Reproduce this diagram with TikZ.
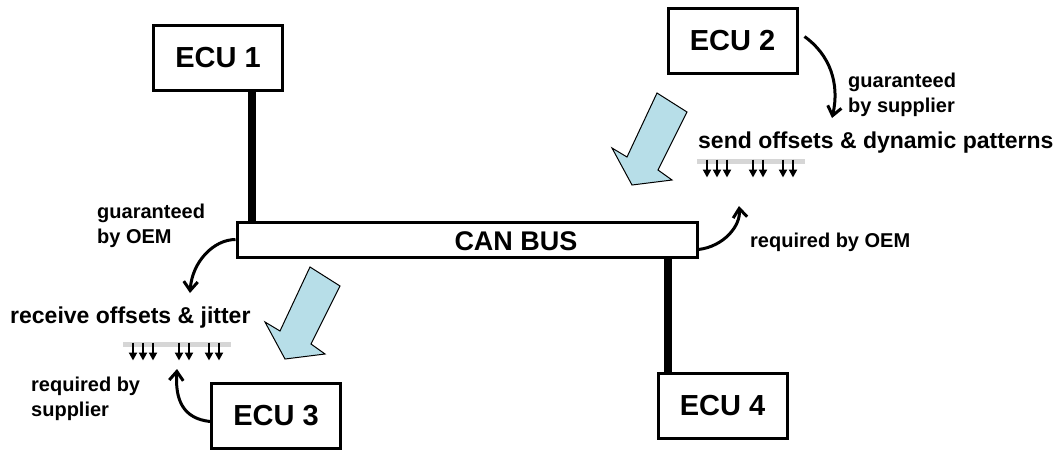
\documentclass[tikz,border=0pt]{standalone}
\usepackage{fontspec}
\setmainfont{Liberation Sans}
\usetikzlibrary{arrows.meta}
\definecolor{arrowblue}{RGB}{183,222,232}
\definecolor{tickgrey}{RGB}{214,214,214}
\tikzset{
  ecubox/.style={draw, fill=white, line width=3pt, minimum width=129, minimum height=65,
    font=\fontsize{29}{34}\selectfont\bfseries},
  busbox/.style={draw, fill=white, line width=3pt, minimum width=460, minimum height=35},
  stub/.style={line width=8pt},
  bigtext/.style={anchor=base west, inner sep=0pt, font=\fontsize{23}{28}\selectfont\bfseries},
  smalltext/.style={anchor=base west, inner sep=0pt, align=left, font=\fontsize{20}{25}\selectfont\bfseries},
  curvearr/.style={line width=3pt, -{Straight Barb[length=9pt,width=14pt,line width=3pt]}},
  bigarr/.style={draw=black, fill=arrowblue, line width=1pt, line join=miter},
  greybar/.style={draw=tickgrey, line width=5pt},
  tickarr/.style={line width=2.5pt, -{Triangle[length=8pt,width=8pt]}}
}
\def\bigarrow(#1,#2){\draw[bigarr, shift={(#1,#2)}] (0,0) -- (-20,-37) -- (-5,-28) -- (25,-92) -- (55,-73) -- (26,-15) -- (40,-5) -- cycle;}
\def\tickrow(#1,#2){\begin{scope}[shift={(#1,#2)}]
    \draw[greybar] (0,0) -- (108,0);
    \foreach \x in {10,20,30,56,66,86,96} \draw[tickarr] (\x,-2) -- (\x,16);
  \end{scope}}

\begin{document}
\begin{tikzpicture}[x=1pt, y=-1pt]
  %%%%% START %%%%%
  \useasboundingbox (0,0) rectangle (1063,451);

  \node[busbox] (bus) at (467,239.5) {};
  \node[font=\fontsize{27}{32}\selectfont\bfseries] (bustext) at (516,241) {CAN BUS};

  \node[ecubox] (ecu1) at (218,57.5) {ECU 1};
  \node[ecubox] (ecu2) at (732.5,40.5) {ECU 2};
  \node[ecubox] (ecu3) at (276,415.5) {ECU 3};
  \node[ecubox] (ecu4) at (722.5,405.5) {ECU 4};

  \draw[stub] ([xshift=34]ecu1.south) -- ([xshift=34]ecu1.south |- bus.north);
  \draw[stub] ([xshift=-54.5]ecu4.north) -- ([xshift=-54.5]ecu4.north |- bus.south);

  \bigarrow(632,185)
  \bigarrow(285,359)

  \node[bigtext] (send) at (698,148) {send offsets \& dynamic patterns};
  \node[bigtext] (recv) at (10,323) {receive offsets \& jitter};
  \tickrow(697,161.5)
  \tickrow(123,344.5)

  % base of a two-line node is its last line
  \node[smalltext] (gsup) at (848,112) {guaranteed\\by supplier};
  \node[smalltext] (goem) at (97,243) {guaranteed\\by OEM};
  \node[smalltext] (roem) at (750,247) {required by OEM};
  \node[smalltext] (rsup) at (31,416) {required by\\supplier};

  \coordinate (sendtip) at (832,118);
  \coordinate (rowtip) at (739,206);
  \coordinate (recvtip) at (190,293);
  \coordinate (rsuptip) at (177,369);

  \draw[curvearr] ([shift={(6,-4)}]ecu2.east) .. controls +(25,18) and +(8,-35) .. (sendtip);
  \draw[curvearr] ([shift={(0,-9)}]bus.south east) .. controls +(25,-3) and +(2,20) .. (rowtip);
  \draw[curvearr] (bus.west) .. controls +(-22,0) and +(2,-31) .. (recvtip);
  \draw[curvearr] ([shift={(0,6)}]ecu3.west) .. controls +(-27,-3) and +(-2,31) .. (rsuptip);
  %%%%% END %%%%%
\end{tikzpicture}
\end{document}
